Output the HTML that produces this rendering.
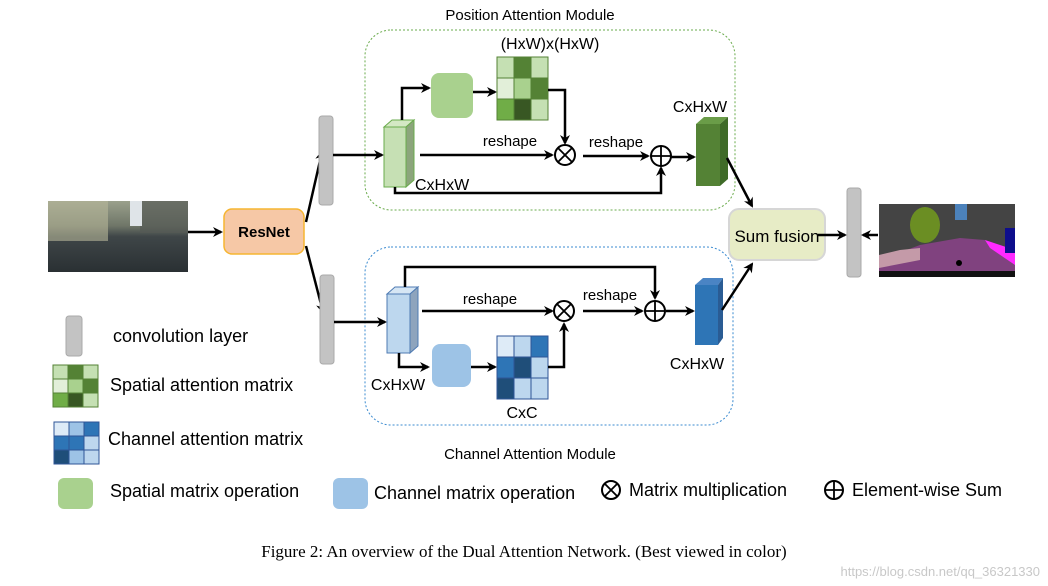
<!DOCTYPE html>
<html><head><meta charset="utf-8"><style>
html,body{margin:0;padding:0;background:#fff;}
svg{display:block;font-family:"Liberation Sans","DejaVu Sans",sans-serif;}
</style></head><body>
<svg width="1048" height="586" viewBox="0 0 1048 586" xmlns="http://www.w3.org/2000/svg">
<defs>
<marker id="a" markerWidth="10" markerHeight="10" refX="8" refY="5" orient="auto" markerUnits="userSpaceOnUse">
<path d="M0,0 L10,5 L0,10 L3,5 Z" fill="#000"/></marker>
<linearGradient id="road" x1="0" y1="0" x2="0" y2="1">
<stop offset="0" stop-color="#9aa08c"/><stop offset="0.35" stop-color="#6f7668"/><stop offset="0.5" stop-color="#3f4648"/><stop offset="1" stop-color="#2a3033"/></linearGradient>
</defs>
<rect width="1048" height="586" fill="#fff"/>

<!-- titles -->
<text x="530" y="20" font-size="15" text-anchor="middle">Position Attention Module</text>
<text x="530" y="459" font-size="15" text-anchor="middle">Channel Attention Module</text>

<!-- module boxes -->
<rect x="365" y="30" width="370" height="180" rx="26" fill="none" stroke="#6aab4c" stroke-width="1" stroke-dasharray="2,2"/>
<rect x="365" y="247" width="368" height="178" rx="26" fill="none" stroke="#3b8bd0" stroke-width="1" stroke-dasharray="2,2"/>

<!-- input image -->
<rect x="48" y="201" width="140" height="71" fill="url(#road)"/>
<rect x="48" y="201" width="60" height="40" fill="#b7b79a" opacity="0.6"/>
<rect x="140" y="201" width="48" height="32" fill="#555a55" opacity="0.7"/>
<rect x="130" y="201" width="12" height="25" fill="#dfe4e8"/>

<!-- ResNet -->
<line x1="188" y1="232" x2="221" y2="232" stroke="#000" stroke-width="2.5" marker-end="url(#a)"/>
<rect x="224" y="209" width="80" height="45" rx="8" fill="#f6c8a6" stroke="#f6b530" stroke-width="1.5"/>
<text x="264" y="237" font-size="15" font-weight="bold" text-anchor="middle">ResNet</text>

<!-- arrows to conv -->
<line x1="306" y1="222" x2="322" y2="152" stroke="#000" stroke-width="2.5" marker-end="url(#a)"/>
<line x1="306" y1="246" x2="323" y2="312" stroke="#000" stroke-width="2.5" marker-end="url(#a)"/>
<rect x="319" y="116" width="14" height="89" rx="3" fill="#c3c3c3" stroke="#aaa"/>
<rect x="320" y="275" width="14" height="89" rx="3" fill="#c3c3c3" stroke="#aaa"/>

<!-- POSITION MODULE -->
<line x1="333" y1="155" x2="382" y2="155" stroke="#000" stroke-width="2.5" marker-end="url(#a)"/>
<polygon points="384,127 392,120 414,120 406,127" fill="#d4e8c4" stroke="#6aab4c"/>
<polygon points="406,127 414,120 414,180 406,187" fill="#8ca57c" stroke="#6aab4c"/>
<rect x="384" y="127" width="22" height="60" fill="#c6e0b4" stroke="#6aab4c"/>
<polyline points="402,120 402,88 429,88" fill="none" stroke="#000" stroke-width="2.5" marker-end="url(#a)"/>
<rect x="431" y="73" width="42" height="45" rx="8" fill="#a9d18e"/>
<line x1="473" y1="92" x2="495" y2="92" stroke="#000" stroke-width="2.5" marker-end="url(#a)"/>
<g stroke="#548235" stroke-width="1">
<rect x="497" y="57" width="17" height="21" fill="#c5e0b3"/><rect x="514" y="57" width="17" height="21" fill="#548235"/><rect x="531" y="57" width="17" height="21" fill="#c5e0b3"/>
<rect x="497" y="78" width="17" height="21" fill="#e2efd9"/><rect x="514" y="78" width="17" height="21" fill="#a9d18e"/><rect x="531" y="78" width="17" height="21" fill="#548235"/>
<rect x="497" y="99" width="17" height="21" fill="#70ad47"/><rect x="514" y="99" width="17" height="21" fill="#385723"/><rect x="531" y="99" width="17" height="21" fill="#c5e0b3"/>
</g>
<text x="550" y="49" font-size="16" text-anchor="middle">(HxW)x(HxW)</text>
<polyline points="548,90 565,90 565,143" fill="none" stroke="#000" stroke-width="2.5" marker-end="url(#a)"/>
<line x1="420" y1="155" x2="552" y2="155" stroke="#000" stroke-width="2.5" marker-end="url(#a)"/>
<text x="510" y="146" font-size="15" text-anchor="middle">reshape</text>
<circle cx="565" cy="155" r="10" fill="#fff" stroke="#000" stroke-width="2"/>
<path d="M558,148 L572,162 M572,148 L558,162" stroke="#000" stroke-width="1.8"/>
<line x1="583" y1="156" x2="648" y2="156" stroke="#000" stroke-width="2.5" marker-end="url(#a)"/>
<text x="616" y="147" font-size="15" text-anchor="middle">reshape</text>
<polyline points="395,187 395,193 661,193 661,168" fill="none" stroke="#000" stroke-width="2.5" marker-end="url(#a)"/>
<text x="415" y="190" font-size="16">CxHxW</text>
<circle cx="661" cy="156" r="10" fill="#fff" stroke="#000" stroke-width="2"/>
<path d="M651,156 L671,156 M661,146 L661,166" stroke="#000" stroke-width="1.8"/>
<line x1="671" y1="157" x2="694" y2="157" stroke="#000" stroke-width="2.5" marker-end="url(#a)"/>
<polygon points="696,124 704,117 728,117 720,124" fill="#6a9c48"/>
<polygon points="720,124 728,117 728,179 720,186" fill="#3f6b28"/>
<rect x="696" y="124" width="24" height="62" fill="#548235"/>
<text x="700" y="112" font-size="16" text-anchor="middle">CxHxW</text>
<line x1="727" y1="158" x2="752" y2="206" stroke="#000" stroke-width="2.5" marker-end="url(#a)"/>

<!-- CHANNEL MODULE -->
<line x1="334" y1="322" x2="385" y2="322" stroke="#000" stroke-width="2.5" marker-end="url(#a)"/>
<polygon points="387,294 395,287 418,287 410,294" fill="#d6e6f4" stroke="#4f7bb3"/>
<polygon points="410,294 418,287 418,346 410,353" fill="#8ea4bd" stroke="#4f7bb3"/>
<rect x="387" y="294" width="23" height="59" fill="#bdd7ee" stroke="#4f7bb3"/>
<polyline points="405,287 405,267 655,267 655,298" fill="none" stroke="#000" stroke-width="2.5" marker-end="url(#a)"/>
<line x1="422" y1="311" x2="552" y2="311" stroke="#000" stroke-width="2.5" marker-end="url(#a)"/>
<text x="490" y="304" font-size="15" text-anchor="middle">reshape</text>
<circle cx="564" cy="311" r="10" fill="#fff" stroke="#000" stroke-width="2"/>
<path d="M557,304 L571,318 M571,304 L557,318" stroke="#000" stroke-width="1.8"/>
<line x1="583" y1="311" x2="642" y2="311" stroke="#000" stroke-width="2.5" marker-end="url(#a)"/>
<text x="610" y="300" font-size="15" text-anchor="middle">reshape</text>
<circle cx="655" cy="311" r="10" fill="#fff" stroke="#000" stroke-width="2"/>
<path d="M645,311 L665,311 M655,301 L655,321" stroke="#000" stroke-width="1.8"/>
<line x1="666" y1="311" x2="693" y2="311" stroke="#000" stroke-width="2.5" marker-end="url(#a)"/>
<polygon points="695,285 703,278 723,278 718,285" fill="#4a84c4"/>
<polygon points="718,285 723,278 723,338 718,345" fill="#2a5c94"/>
<rect x="695" y="285" width="23" height="60" fill="#2e75b6"/>
<text x="697" y="369" font-size="16" text-anchor="middle">CxHxW</text>
<line x1="722" y1="310" x2="752" y2="264" stroke="#000" stroke-width="2.5" marker-end="url(#a)"/>
<polyline points="399,353 399,367 428,367" fill="none" stroke="#000" stroke-width="2.5" marker-end="url(#a)"/>
<rect x="432" y="344" width="39" height="43" rx="8" fill="#9dc3e6"/>
<line x1="471" y1="367" x2="495" y2="367" stroke="#000" stroke-width="2.5" marker-end="url(#a)"/>
<g stroke="#2f5597" stroke-width="1">
<rect x="497" y="336" width="17" height="21" fill="#deebf7"/><rect x="514" y="336" width="17" height="21" fill="#bdd7ee"/><rect x="531" y="336" width="17" height="21" fill="#2e75b6"/>
<rect x="497" y="357" width="17" height="21" fill="#2e75b6"/><rect x="514" y="357" width="17" height="21" fill="#1f4e79"/><rect x="531" y="357" width="17" height="21" fill="#bdd7ee"/>
<rect x="497" y="378" width="17" height="21" fill="#1f4e79"/><rect x="514" y="378" width="17" height="21" fill="#bdd7ee"/><rect x="531" y="378" width="17" height="21" fill="#bdd7ee"/>
</g>
<text x="522" y="418" font-size="16" text-anchor="middle">CxC</text>
<polyline points="548,367 564,367 564,324" fill="none" stroke="#000" stroke-width="2.5" marker-end="url(#a)"/>
<text x="398" y="390" font-size="16" text-anchor="middle">CxHxW</text>

<!-- Sum fusion -->
<rect x="729" y="209" width="96" height="51" rx="10" fill="#e7ecc6" stroke="#d6d6d6" stroke-width="2"/>
<text x="777" y="242" font-size="17" text-anchor="middle">Sum fusion</text>
<line x1="818" y1="235" x2="845" y2="235" stroke="#000" stroke-width="2.5" marker-end="url(#a)"/>
<rect x="847" y="188" width="14" height="89" rx="3" fill="#c3c3c3" stroke="#aaa"/>
<line x1="878" y1="235" x2="863" y2="235" stroke="#000" stroke-width="2.5" marker-end="url(#a)"/>

<!-- output seg image -->
<rect x="879" y="204" width="136" height="73" fill="#444"/>
<polygon points="879,260 920,245 960,238 985,240 1015,255 1015,277 879,277" fill="#80427f"/>
<polygon points="879,255 900,250 920,248 920,260 879,268" fill="#c49aa8"/>
<polygon points="985,240 1000,245 1015,250 1015,265 990,248" fill="#ff2aff"/>
<ellipse cx="925" cy="225" rx="15" ry="18" fill="#6b8e23"/>
<rect x="955" y="204" width="12" height="16" fill="#4c82bb"/>
<rect x="1005" y="228" width="10" height="25" fill="#0e0e8c"/>
<rect x="879" y="271" width="136" height="6" fill="#111"/>
<circle cx="959" cy="263" r="3" fill="#000"/>

<!-- legend -->
<rect x="66" y="316" width="16" height="40" rx="3" fill="#c3c3c3" stroke="#aaa"/>
<text x="113" y="342" font-size="18">convolution layer</text>
<g stroke="#548235" stroke-width="1">
<rect x="53" y="365" width="15" height="14" fill="#c5e0b3"/><rect x="68" y="365" width="15" height="14" fill="#548235"/><rect x="83" y="365" width="15" height="14" fill="#c5e0b3"/>
<rect x="53" y="379" width="15" height="14" fill="#e2efd9"/><rect x="68" y="379" width="15" height="14" fill="#a9d18e"/><rect x="83" y="379" width="15" height="14" fill="#548235"/>
<rect x="53" y="393" width="15" height="14" fill="#70ad47"/><rect x="68" y="393" width="15" height="14" fill="#385723"/><rect x="83" y="393" width="15" height="14" fill="#c5e0b3"/>
</g>
<text x="110" y="391" font-size="18">Spatial attention matrix</text>
<g stroke="#2f5597" stroke-width="1">
<rect x="54" y="422" width="15" height="14" fill="#deebf7"/><rect x="69" y="422" width="15" height="14" fill="#9dc3e6"/><rect x="84" y="422" width="15" height="14" fill="#2e75b6"/>
<rect x="54" y="436" width="15" height="14" fill="#2e75b6"/><rect x="69" y="436" width="15" height="14" fill="#2e75b6"/><rect x="84" y="436" width="15" height="14" fill="#bdd7ee"/>
<rect x="54" y="450" width="15" height="14" fill="#1f4e79"/><rect x="69" y="450" width="15" height="14" fill="#9dc3e6"/><rect x="84" y="450" width="15" height="14" fill="#bdd7ee"/>
</g>
<text x="108" y="445" font-size="18">Channel attention matrix</text>
<rect x="58" y="478" width="35" height="31" rx="6" fill="#a9d18e"/>
<text x="110" y="497" font-size="18">Spatial matrix operation</text>
<rect x="333" y="478" width="35" height="31" rx="6" fill="#9dc3e6"/>
<text x="374" y="499" font-size="18">Channel matrix operation</text>
<circle cx="611" cy="490" r="9" fill="#fff" stroke="#000" stroke-width="2"/>
<path d="M605,484 L617,496 M617,484 L605,496" stroke="#000" stroke-width="1.8"/>
<text x="629" y="496" font-size="18">Matrix multiplication</text>
<circle cx="834" cy="490" r="9" fill="#fff" stroke="#000" stroke-width="2"/>
<path d="M825,490 L843,490 M834,481 L834,499" stroke="#000" stroke-width="1.8"/>
<text x="852" y="496" font-size="18">Element-wise Sum</text>

<!-- caption -->
<text x="524" y="557" font-size="17" text-anchor="middle" font-family="Liberation Serif, serif">Figure 2: An overview of the Dual Attention Network. (Best viewed in color)</text>
<text x="1040" y="576" font-size="13" text-anchor="end" fill="#c8c8c8">https://blog.csdn.net/qq_36321330</text>
</svg>
</body></html>
